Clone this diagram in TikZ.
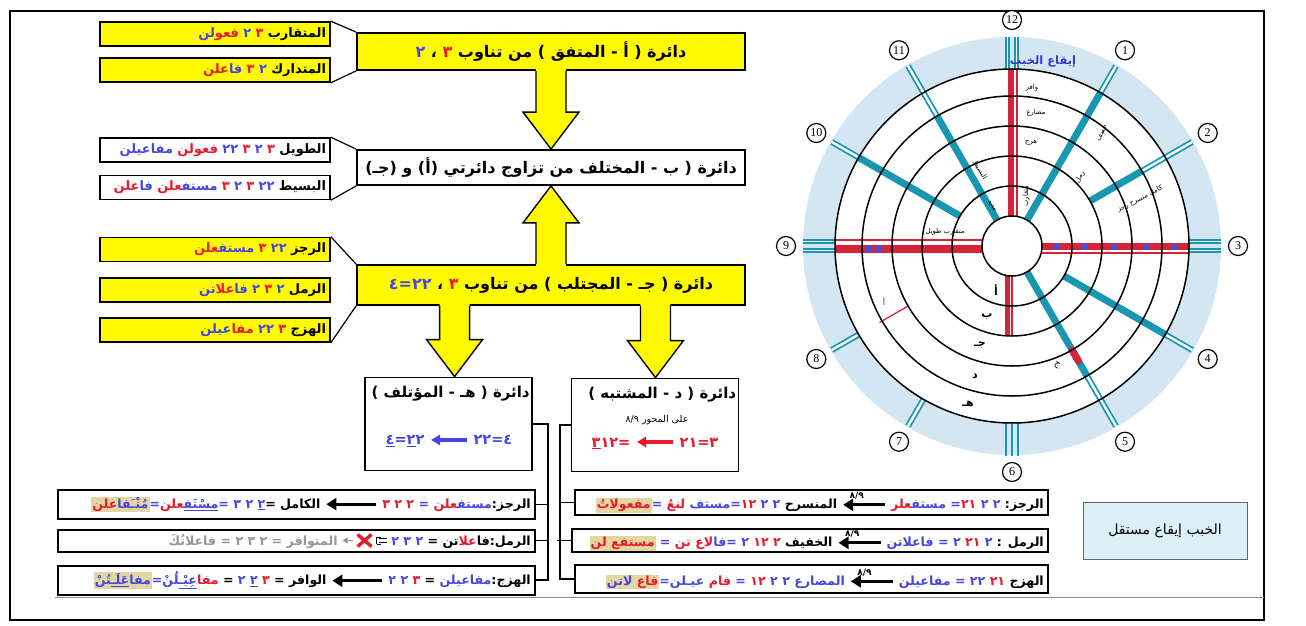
\documentclass[tikz,border=0pt]{standalone}
\usepackage{fontspec}
\usetikzlibrary{arrows.meta,calc}
\TeXXeTstate=1
\newfontfamily\arabicfont[Script=Arabic]{DejaVu Sans}
\newfontfamily\numfont{Liberation Serif}

\definecolor{tblue}{RGB}{70,70,225}
\definecolor{tred}{RGB}{235,25,45}
\definecolor{tgray}{RGB}{150,150,150}
\definecolor{boxyellow}{RGB}{255,250,0}
\definecolor{spoke}{RGB}{25,150,178}
\definecolor{ringred}{RGB}{215,35,55}
\definecolor{halo}{RGB}{212,230,241}
\definecolor{khaki}{RGB}{228,214,160}
\definecolor{notebox}{RGB}{221,239,247}
\definecolor{sq}{RGB}{70,80,220}

% right-to-left run of Arabic words
\newcommand{\AR}[1]{\hbox{\beginR#1\endR}}
\newcommand{\blu}[1]{\textcolor{tblue}{#1}}
\newcommand{\rd}[1]{\textcolor{tred}{#1}}
\newcommand{\gr}[1]{\textcolor{tgray}{#1}}
\newcommand{\zj}{\char"200D\relax}
\newcommand{\kh}[1]{{\setlength{\fboxsep}{1pt}\colorbox{khaki}{#1}}}

% inline arrows used in the formula rows
\newcommand{\rowarrow}{\tikz[baseline=-4pt]\draw[line width=3.2pt,-{Triangle[length=10pt,width=12pt]}] (0pt,0pt) -- (-50pt,0pt);}
\newcommand{\axisarrow}{\tikz[baseline=-4pt]{\draw[line width=3.2pt,-{Triangle[length=10pt,width=12pt]}] (0pt,0pt) -- (-42pt,0pt);
  \node[inner sep=0pt,font=\arabicfont\fontsize{9}{9}\selectfont] at (-21pt,9pt) {٨/٩};}}
\newcommand{\inarrow}[1]{\tikz[baseline=-5pt]\draw[#1,line width=3.2pt,-{Triangle[length=9pt,width=10pt]}] (0pt,0pt) -- (-36pt,0pt);}
\newcommand{\crossed}{\tikz[baseline=-4.5pt]{
  \draw[tgray,line width=1pt,-{Triangle[length=5pt,width=6pt]}] (-36pt,0pt) -- (-46pt,0pt);
  \draw[tred,line width=3.4pt] (-31pt,-6pt) -- (-17pt,6pt) (-31pt,6pt) -- (-17pt,-6pt);
  \draw[black,line width=1pt] (-2pt,2pt) -- (-10pt,2pt) (-2pt,-2pt) -- (-10pt,-2pt) (-12pt,3.5pt) -- (-8pt,3.5pt) (-12pt,-3.5pt) -- (-8pt,-3.5pt) (-12pt,3.5pt) -- (-12pt,-3.5pt);}}

% block arrows between the circle boxes
\newcommand{\downblock}[2]{%
  \fill[boxyellow] let \p1=(#1), \p2=(#2) in
    (\x1-15pt,\y1+2pt) -- (\x1-15pt,\y2+37pt) -- (\x1-28pt,\y2+37pt) -- (\x1,\y2)
    -- (\x1+28pt,\y2+37pt) -- (\x1+15pt,\y2+37pt) -- (\x1+15pt,\y1+2pt) -- cycle;
  \draw[line width=1.4pt,line join=miter] let \p1=(#1), \p2=(#2) in
    (\x1-15pt,\y1) -- (\x1-15pt,\y2+37pt) -- (\x1-28pt,\y2+37pt) -- (\x1,\y2)
    -- (\x1+28pt,\y2+37pt) -- (\x1+15pt,\y2+37pt) -- (\x1+15pt,\y1);}
\newcommand{\upblock}[2]{%
  \fill[boxyellow] let \p1=(#1), \p2=(#2) in
    (\x1-15pt,\y1-2pt) -- (\x1-15pt,\y2-37pt) -- (\x1-28pt,\y2-37pt) -- (\x1,\y2)
    -- (\x1+28pt,\y2-37pt) -- (\x1+15pt,\y2-37pt) -- (\x1+15pt,\y1-2pt) -- cycle;
  \draw[line width=1.4pt,line join=miter] let \p1=(#1), \p2=(#2) in
    (\x1-15pt,\y1) -- (\x1-15pt,\y2-37pt) -- (\x1-28pt,\y2-37pt) -- (\x1,\y2)
    -- (\x1+28pt,\y2-37pt) -- (\x1+15pt,\y2-37pt) -- (\x1+15pt,\y1);}

\begin{document}
\begin{tikzpicture}[x=1pt,y=-1pt,
  bigbox/.style={draw=black,line width=1.8pt,inner sep=0pt,minimum width=388pt,
    font=\arabicfont\bfseries\fontsize{16}{18}\selectfont},
  ybig/.style={bigbox,fill=boxyellow},
  wbig/.style={bigbox,fill=white},
  smallbox/.style={draw=black,line width=1.6pt,inner xsep=4pt,inner ysep=0pt,
    text width=222pt,align=right,minimum height=24pt,
    font=\arabicfont\bfseries\fontsize{13}{14}\selectfont},
  ysmall/.style={smallbox,fill=boxyellow},
  wsmall/.style={smallbox,fill=white},
  circbox/.style={draw=black,line width=1.8pt,fill=white,minimum width=167pt,minimum height=93pt},
  rowbox/.style={draw=black,line width=2pt,fill=white,inner sep=0pt},
  rowtext/.style={inner sep=0pt,anchor=east,font=\arabicfont\bfseries\fontsize{12.6}{14}\selectfont},
  conn/.style={line width=1.2pt},
  lab/.style={inner sep=0pt,font=\arabicfont\fontsize{6.8}{8}\selectfont},
  ringlet/.style={inner sep=0pt,font=\arabicfont\bfseries\fontsize{11}{12}\selectfont},
  numc/.style={draw=black,circle,line width=1.2pt,fill=white,inner sep=0pt,minimum size=19pt,
    font=\numfont\fontsize{12}{12}\selectfont}
]
\useasboundingbox (0,0) rectangle (1306,626);
\fill[white] (0,0) rectangle (1306,626);

% page frame
\draw[line width=2.5pt] (10,11) rectangle (1264,620);
\draw[black!45,line width=1pt] (55,597) -- (1264,597);

% ---------------- circle boxes ----------------
\node[ybig,minimum height=37pt] (A) at (551,51.5)
  {\blu{٢} ، \rd{٣} \AR{من تناوب} ) \AR{المتفق} - \AR{أ} ( \AR{دائرة}};
\node[wbig,minimum height=35pt] (B) at (551,167.5)
  {)\AR{جـ}( \AR{و} )\AR{أ}( \AR{المختلف من تزاوج دائرتي} - \AR{ب} ( \AR{دائرة}};
\node[ybig,minimum height=40pt] (C) at (551,285)
  {\blu{٢٢=٤} ، \rd{٣} \AR{من تناوب} ) \AR{المجتلب} - \AR{جـ} ( \AR{دائرة}};

\node[ysmall] (a1) at (215,34)
  {\blu{\AR{لن}}\rd{\AR{فعو}} \blu{٢} \rd{٣} \AR{المتقارب}};
\node[ysmall] (a2) at (215,70)
  {\rd{\AR{علن}}\blu{\AR{فا}} \rd{٣} \blu{٢} \AR{المتدارك}};
\node[wsmall] (b1) at (215,150)
  {\blu{\AR{مفاعيلن}} \rd{\AR{فعولن}} \blu{٢٢} \rd{٣} \blu{٢} \rd{٣} \AR{الطويل}};
\node[wsmall] (b2) at (215,187.5)
  {\rd{\AR{علن}}\blu{\AR{فا}} \rd{\AR{\zj علن}}\blu{\AR{مستف\zj}} \rd{٣} \blu{٢} \rd{٣} \blu{٢٢} \AR{البسيط}};
\node[ysmall] (c1) at (215,249.5)
  {\rd{\AR{\zj علن}}\blu{\AR{مستف\zj}} \rd{٣} \blu{٢٢} \AR{الرجز}};
\node[ysmall] (c2) at (215,290)
  {\blu{\AR{تن}}\rd{\AR{علا}}\blu{\AR{فا}} \blu{٢} \rd{٣} \blu{٢} \AR{الرمل}};
\node[ysmall] (c3) at (215,330)
  {\blu{\AR{عيلن}}\rd{\AR{مفا}} \blu{٢٢} \rd{٣} \AR{الهزج}};

% callout lines from the metre boxes to their circle
\draw[conn] (a1.north east) -- (A.north west);
\draw[conn] (a2.south east) -- (A.south west);
\draw[conn] (b1.north east) -- (B.north west);
\draw[conn] (b2.south east) -- (B.south west);
\draw[conn] (c1.north east) -- (C.north west);
\draw[conn] (c3.south east) -- (C.south west);

% circles E and D
\node[circbox] (E) at (448.5,424) {};
\node[circbox] (D) at (655,425) {};
\node[inner sep=0pt,anchor=north east,font=\arabicfont\bfseries\fontsize{15}{17}\selectfont]
  (Et) at ($(E.north east)+(-3,9)$) {) \AR{المؤتلف} - \AR{هـ} ( \AR{دائرة}};
\node[inner sep=0pt,font=\arabicfont\bfseries\fontsize{14.5}{16}\selectfont] (Ef) at (449,441)
  {\blu{\underline{٤}=\underline{٢}٢ \inarrow{tblue} ٤=٢٢}};
\node[inner sep=0pt,anchor=north east,font=\arabicfont\bfseries\fontsize{15}{17}\selectfont]
  (Dt) at ($(D.north east)+(-3,9)$) {) \AR{المشتبه} - \AR{د} ( \AR{دائرة}};
\node[inner sep=0pt,font=\arabicfont\fontsize{9.5}{10}\selectfont] (Dax) at (657,420)
  {٨/٩ \AR{على المحور}};
\node[inner sep=0pt,font=\arabicfont\bfseries\fontsize{14.5}{16}\selectfont] (Df) at (655,443)
  {\rd{\underline{٣}=١٢ \inarrow{tred} ٣=٢١}};

% block arrows
\coordinate (ce) at ($(C.south west)!0.2526!(C.south east)$);
\coordinate (cd) at ($(C.south west)!0.768!(C.south east)$);
\coordinate (et) at (ce |- E.north);
\coordinate (dt) at (cd |- D.north);
\downblock{A.south}{B.north}
\upblock{C.north}{B.south}
\downblock{ce}{et}
\downblock{cd}{dt}

% ---------------- formula rows ----------------
\node[rowbox,minimum width=477pt,minimum height=29pt] (L1) at (296.5,504.5) {};
\node[rowbox,minimum width=477pt,minimum height=22pt] (L2) at (296.5,540.5) {};
\node[rowbox,minimum width=477pt,minimum height=29pt] (L3) at (296.5,580) {};
\node[rowbox,minimum width=473pt,minimum height=25pt] (R1) at (811.5,502.5) {};
\node[rowbox,minimum width=476pt,minimum height=23pt] (R2) at (810,540.5) {};
\node[rowbox,minimum width=473pt,minimum height=28pt] (R3) at (811.5,579) {};

\node[rowtext] at ($(L1.east)+(-5,0)$)
  {\kh{\rd{\AR{علن}}\blu{\AR{مُتْـَفا}}}\blu{=}\rd{\AR{\zj علن}}\blu{\underline{\AR{مسْتَف\zj}}}\blu{=} \blu{٣ ٢ \underline{٢}}= \AR{الكامل} \rowarrow{} \rd{٣ ٢ ٢} \blu{=} \rd{\AR{\zj علن}}\blu{\AR{مستف\zj}}:\AR{الرجز}};
\node[rowtext] at ($(L2.east)+(-5,0)$)
  {\gr{\AR{فاعلاتُكَ} = ٢ ٣ ٢ = \AR{المتوافر}} \crossed{} \blu{٢ ٣ ٢} = \AR{تن}\rd{\AR{علا}}\AR{فا}:\AR{الرمل}};
\node[rowtext] at ($(L3.east)+(-5,0)$)
  {\kh{\blu{\AR{\zj تُنْ}}\blu{\underline{\AR{عَلَـ\zj}}}\blu{\AR{مفا}}}\blu{=}\blu{\AR{\zj لُنْ}}\blu{\underline{\AR{عِيْـ\zj}}}\rd{\AR{مفا}} = \blu{٢ \underline{٢}} \rd{٣} = \AR{الوافر} \rowarrow{} \blu{٢ ٢} \rd{٣} = \blu{\AR{مفاعيلن}}:\AR{الهزج}};

\node[rowtext] at ($(R1.east)+(-5,0)$)
  {\kh{\rd{\AR{مفعولاتُ}}}\blu{=} \rd{\AR{لنعُ}} \blu{\AR{مستف}=}\rd{١٢} \blu{٢ ٢} \AR{المنسرح} \axisarrow{} \rd{\AR{\zj علر}}\blu{\AR{مستف\zj}} \blu{=}\rd{٢١} \blu{٢ ٢} :\AR{الرجز}};
\node[rowtext] at ($(R2.east)+(-5,0)$)
  {\kh{\rd{\AR{لن} \AR{مستفع}}} \blu{=} \rd{\AR{تن}} \rd{\AR{لاع}}\blu{\AR{فا}=} \blu{٢} \rd{١٢} \rd{٢} \AR{الخفيف} \axisarrow{} \blu{\AR{فاعلاتن}} \blu{=} \blu{٢} \rd{٢١} \blu{٢} : \AR{الرمل}};
\node[rowtext] at ($(R3.east)+(-5,0)$)
  {\kh{\blu{\AR{لاتن}} \rd{\AR{فاع}}}\blu{=}\blu{\AR{عيـلن}} \rd{\AR{فام}} \blu{=} \rd{١٢} \blu{٢ ٢} \blu{\AR{المضارع}} \axisarrow{} \blu{\AR{مفاعيلن}} \blu{=} \blu{٢٢} \rd{٢١} \AR{الهزج}};

% connectors from circles E and D to their rows
\draw[conn] (E.east) -| ($(L3.east)+(12,0)$) -- (L3.east);
\draw[conn] (L1.east) -- ++(12,0);
\draw[conn] (L2.east) -- ++(12,0);
\draw[conn] (D.west) -| ($(R3.west)+(-14,0)$) -- (R3.west);
\draw[conn] (R1.west) -- ++(-14,0);
\draw[conn] (R2.west) -- ++(-14,0);

% note box
\node[draw=black!60,line width=0.8pt,fill=notebox,minimum width=164pt,minimum height=57pt,
  font=\arabicfont\fontsize{14}{16}\selectfont] (N) at (1165,530.5) {\AR{الخبب إيقاع مستقل}};

% ---------------- the circle of metres ----------------
\coordinate (O) at (1012,246);
\fill[halo,even odd rule] (O) circle[radius=209pt] (O) circle[radius=177pt];

% teal spokes: angle / inner radius / end of solid part
\foreach \a/\ri/\ro in {60/30/177, 30/90/150, -30/60/177, -60/30/150, 150/60/177, 120/30/150}{
  \draw[spoke,line width=7pt] ($(O)+(\a:\ri pt)$) -- ($(O)+(\a:\ro pt)$);
  \draw[spoke,line width=6pt] ($(O)+(\a:\ro pt)$) -- ($(O)+(\a:208pt)$);
  \draw[white,line width=2.4pt] ($(O)+(\a:\ro pt+1pt)$) -- ($(O)+(\a:208pt)$);
}
% double strokes on the rim only
\foreach \a in {-120,-150}{
  \draw[spoke,line width=6pt] ($(O)+(\a:177pt)$) -- ($(O)+(\a:208pt)$);
  \draw[white,line width=2.4pt] ($(O)+(\a:178pt)$) -- ($(O)+(\a:208pt)$);
}
% paired strokes at 12, 3 and 9
\foreach \a in {90,0,180}{
  \foreach \s in {-4.5,4.5}{
    \draw[spoke,line width=5pt] ($(O)+(\a:177pt)+(\a+90:\s pt)$) -- ($(O)+(\a:209pt)+(\a+90:\s pt)$);
    \draw[white,line width=1.8pt] ($(O)+(\a:177pt)+(\a+90:\s pt)$) -- ($(O)+(\a:209pt)+(\a+90:\s pt)$);
  }
}
% triple strokes at 6
\foreach \s in {-6,0,6}{
  \draw[spoke,line width=1.8pt] ($(O)+(-90:176pt)+(0:\s pt)$) -- ($(O)+(-90:210pt)+(0:\s pt)$);
}

% red axes
\draw[ringred,line width=6pt] (1010.5,217) -- (1010.5,69);
\draw[ringred,line width=1.5pt] (1017,217) -- (1017,69);
\draw[ringred,line width=8pt] (1009,275) -- (1009,336);
\draw[white,line width=1pt] (1010,275) -- (1010,336);
\draw[ringred,line width=8pt] (982,249) -- (835,249);
\draw[ringred,line width=1.5pt] (983,240) -- (835,240);
\draw[ringred,line width=7pt] (1042,246.5) -- (1189,246.5);
\draw[ringred,line width=1.5pt] (1042,253) -- (1189,253);
\foreach \x in {868,879}{\fill[sq] (\x-3,246) rectangle (\x+3,252);}
\foreach \x in {1057,1084,1115,1146,1175}{\fill[sq] (\x-3,243.5) rectangle (\x+3,249.5);}
\draw[ringred,line width=1.3pt] ($(O)+(-150:121pt)$) -- ($(O)+(-150:153pt)$);
\draw[ringred,line width=7pt,line cap=round] ($(O)+(-60:120pt)$) -- ($(O)+(-60:133pt)$);

% rings
\foreach \r in {60,90,120,150,177}{\draw[line width=1.5pt] (O) circle[radius=\r pt];}
\draw[line width=1.5pt,fill=white] (O) circle[radius=30pt];

% labels inside the circle
\node[inner sep=0pt,font=\arabicfont\bfseries\fontsize{11.5}{12}\selectfont,text=tblue!85!black] at (1043,62) {\AR{إيقاع الخبب}};
\node[lab] at (1032,88) {\AR{وافر}};
\node[lab] at (1036,113) {\AR{مضارع}};
\node[lab] at (1031,143) {\AR{هزج}};
\node[lab,rotate=90] at (1026,196) {\AR{متقارب}};
\node[lab,rotate=-58] at (980,170) {\AR{البسيط}};
\node[lab,rotate=-58] at (992,206) {\AR{مديد}};
\node[lab] at (945,232) {\AR{متقارب طويل}};
\node[lab,rotate=62] at (1102,133) {\AR{خفيف}};
\node[lab,rotate=62] at (1080,177) {\AR{رمل}};
\node[lab,rotate=27] at (1140,199) {\AR{كامل منسرح رجز}};
\node[ringlet] at (996,290) {\AR{أ}};
\node[ringlet] at (987,317) {\AR{ب}};
\node[ringlet] at (980,345) {\AR{جـ}};
\node[ringlet] at (975,376) {\AR{د}};
\node[ringlet] at (968,404) {\AR{هـ}};
\node[lab,text=tred,font=\arabicfont\fontsize{10}{10}\selectfont] at (884,302) {\AR{ا}};
\node[lab,rotate=-30,font=\arabicfont\fontsize{9}{9}\selectfont] at (1057,365) {\AR{ج}};

% clock numbers round the rim
\foreach \n in {1,...,12}{
  \node[numc] (k\n) at ($(O)+({90-30*\n}:226pt)$) {\n};
}
\end{tikzpicture}
\end{document}
